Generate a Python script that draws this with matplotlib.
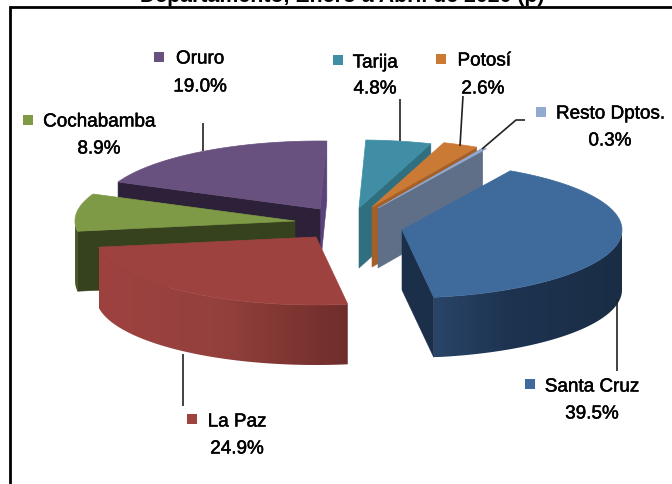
import numpy as np
import matplotlib
matplotlib.use('Agg')
import matplotlib.pyplot as plt
import matplotlib.patheffects as pe
from matplotlib.colors import LinearSegmentedColormap
from matplotlib.patches import Polygon, Rectangle

# datos
categories = ['Santa Cruz', 'La Paz', 'Cochabamba', 'Oruro', 'Tarija', 'Potosí', 'Resto Dptos.']
shares = [39.5, 24.9, 8.9, 19.0, 4.8, 2.6, 0.3]
labels = ['39.5%', '24.9%', '8.9%', '19.0%', '4.8%', '2.6%', '0.3%']
title = 'Departamento, Enero a Abril de 2020 (p)'

top_colors = ['#3f6a9c', '#9e4240', '#7f9a47', '#69517f', '#3f8ea5', '#cb7a36', '#93a9cf']
cut_colors = ['#1b2f4a', '#6e2d2b', '#36421e', '#2c2138', '#2f6f80', '#a65f26', '#5f6f88']

# geometria en pixeles
RX, RY, DEPTH = 220, 68, 60
START = 29.5
centers = [(402, 231), (316, 238), (295, 222), (320, 210), (359, 209), (372, 208), (378, 209)]
draw_order = [4, 5, 6, 0, 3, 2, 1]

# posiciones de etiquetas: marcador, nombre, valor
marker_pos = [(530, 385), (192, 420), (28, 121), (159, 58), (338, 61), (441, 60), (541, 113)]
name_pos = [(592, 388), (237, 423), (99, 123), (200, 60), (375, 64), (484, 62), (610, 115)]
value_pos = [(592, 415), (237, 450), (99, 150), (200, 88), (375, 90), (483, 90), (610, 142)]
leaders = [([617, 617], [300, 372]), ([183, 183], [355, 407]), ([203, 203], [124, 152]),
           ([400, 400], [100, 142]), ([463, 460], [97, 147]), ([482, 516, 525], [150, 121, 121])]


def edge_point(c, theta):
    t = np.radians(theta)
    return np.array([c[0] + RX * np.sin(t), c[1] - RY * np.cos(t)])


def arc(c, a, b, n=60):
    return np.array([edge_point(c, v) for v in np.linspace(a, b, n)])


def radial_face(ax, c, theta, color, z):
    p = edge_point(c, theta)
    pts = [c, p, (p[0], p[1] + DEPTH), (c[0], c[1] + DEPTH)]
    ax.add_patch(Polygon(pts, closed=True, fc=color, ec=color, lw=0.4, zorder=z))


def outer_wall(ax, c, a, b, stops, z):
    # pared exterior: degradado horizontal recortado con la forma de la pared
    top = arc(c, a, b)
    pts = np.vstack([top, top[::-1] + [0, DEPTH]])
    shape = Polygon(pts, closed=True, fc='none', ec='none')
    ax.add_patch(shape)
    x0, x1 = pts[:, 0].min(), pts[:, 0].max()
    y0, y1 = pts[:, 1].min(), pts[:, 1].max()
    cmap = LinearSegmentedColormap.from_list('wall', stops)
    grad = np.linspace(0, 1, 256).reshape(1, -1)
    im = ax.imshow(grad, cmap=cmap, extent=(x0, x1, y1, y0), aspect='auto', zorder=z)
    im.set_clip_path(shape)


fig = plt.figure(figsize=(6.72, 4.85), dpi=100)
ax = fig.add_axes([0, 0, 1, 1])
ax.axis('off')

# angulos desde los porcentajes
edges = START + np.cumsum([0] + shares) * 3.6

for order, i in enumerate(draw_order):
    c = centers[i]
    a, b = edges[i], edges[i + 1]
    z = 1 + order * 0.1
    if i == 0:
        radial_face(ax, c, b, cut_colors[i], z)
        outer_wall(ax, c, 90, b, [(0, '#2a4568'), (0.4, '#1d3350'), (1, '#1a2d45')], z)
    elif i == 1:
        outer_wall(ax, c, a, b, [(0, '#9e4240'), (0.5, '#93403c'), (1, '#6e2d2b')], z)
    elif i == 2:
        outer_wall(ax, c, a, 270, [(0, '#55682e'), (1, '#36421e')], z)
        radial_face(ax, c, a, cut_colors[i], z)
    elif i == 3:
        radial_face(ax, c, b, '#59437a', z)
        radial_face(ax, c, a, cut_colors[i], z)
    elif i == 6:
        radial_face(ax, c, a, cut_colors[i], z)
    else:
        radial_face(ax, c, b, cut_colors[i], z)
    pts = np.vstack([[c], arc(c, a, b)])
    ax.add_patch(Polygon(pts, closed=True, fc=top_colors[i], ec=top_colors[i], lw=0.5, zorder=z + 0.05))

ax.set_xlim(0, 672)
ax.set_ylim(485, 0)

for xs, ys in leaders:
    ax.plot(xs, ys, color='#222222', lw=1.2, solid_capstyle='butt', zorder=3)

font = 'Liberation Sans'
stroke = [pe.withStroke(linewidth=0.35, foreground='black')]
for i, name in enumerate(categories):
    mx, my = marker_pos[i]
    ax.add_patch(Rectangle((mx - 5, my - 5), 10, 10, fc=top_colors[i], ec='none', zorder=3))
    ax.text(*name_pos[i], name, family=font, fontsize=13.6, ha='center', va='center', color='black',
            path_effects=stroke, zorder=4)
    ax.text(*value_pos[i], labels[i], family=font, fontsize=13.6, ha='center', va='center', color='black',
            path_effects=stroke, zorder=4)

# marco y titulo cortado
ax.plot([10, 10, 672], [485, 8, 8], color='black', lw=2, solid_joinstyle='miter', zorder=3)
ax.text(342, 2.5, title, family=font, fontsize=15.3, fontweight='bold', ha='center', va='baseline',
        color='black', clip_on=True, zorder=4)

fig.savefig('out.png', dpi=100)
